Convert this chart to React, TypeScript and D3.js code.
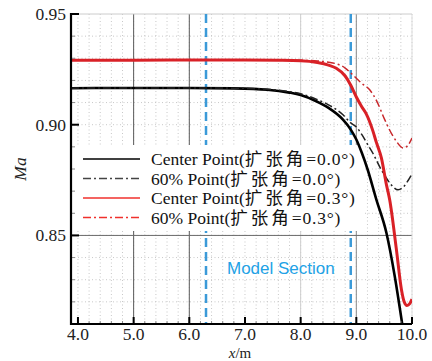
import React from "react";
import * as d3 from "d3";

const W = 432;
const H = 361;

// x tick labels and y tick labels
const xTicks = [4, 5, 6, 7, 8, 9, 10];
const yTicks = [0.85, 0.9, 0.95];
const majorGridX = [5, 6, 8, 9];
const majorGridXColor = ["#5a5a5a", "#5a5a5a", "#cfcfcf", "#8a8a8a"];
const sectionLines = [6.3, 8.9];

// Series: [x, Ma]
const center00: [number, number][] = [
  [3.875, 0.9165], [4.3, 0.9166], [5.0, 0.9166], [6.0, 0.9166], [6.8, 0.9164],
  [7.4, 0.9158], [7.8, 0.9145], [8.0, 0.9134], [8.28, 0.9106], [8.5, 0.9076],
  [8.76, 0.9023], [8.9, 0.8978], [9.0, 0.8933], [9.1, 0.8872], [9.2, 0.8800],
  [9.36, 0.8662], [9.54, 0.8512], [9.69, 0.8316], [9.83, 0.8090],
];
const p60_00: [number, number][] = [
  [3.875, 0.9165], [4.3, 0.9166], [5.0, 0.9166], [6.0, 0.9166], [6.8, 0.9165],
  [7.4, 0.9160], [7.8, 0.9149], [8.0, 0.9140], [8.28, 0.9115], [8.5, 0.9090],
  [8.76, 0.9045], [8.9, 0.9008], [9.0, 0.8990], [9.1, 0.8955], [9.2, 0.8912],
  [9.3, 0.8870], [9.42, 0.8810], [9.55, 0.8755], [9.65, 0.8722], [9.75, 0.8706],
  [9.85, 0.8720], [9.93, 0.8748], [10.0, 0.8778],
];
const center03: [number, number][] = [
  [3.875, 0.9291], [5.0, 0.9291], [6.0, 0.9292], [7.0, 0.9292], [7.6, 0.9291],
  [8.0, 0.9289], [8.3, 0.9281], [8.5, 0.9269], [8.64, 0.9255], [8.8, 0.9220],
  [8.9, 0.9178], [9.0, 0.9125], [9.1, 0.9080], [9.18, 0.9048], [9.3, 0.8970],
  [9.36, 0.8920], [9.45, 0.8850], [9.54, 0.8730], [9.6, 0.8660], [9.72, 0.8436],
  [9.81, 0.8256], [9.86, 0.8200], [9.91, 0.8184], [9.96, 0.8192], [10.0, 0.8212],
];
const p60_03: [number, number][] = [
  [3.875, 0.9291], [5.0, 0.9291], [6.0, 0.9292], [7.0, 0.9292], [7.6, 0.9292],
  [8.0, 0.9291], [8.3, 0.9288], [8.5, 0.9282], [8.64, 0.9275], [8.8, 0.9256],
  [8.9, 0.9234], [9.0, 0.9210], [9.1, 0.9186], [9.24, 0.9158], [9.36, 0.9110],
  [9.51, 0.9023], [9.6, 0.8975], [9.72, 0.8925], [9.84, 0.8895], [9.92, 0.8905],
  [10.0, 0.8940],
];

const legendLabels = [
  "Center Point(扩张角=0.0°)",
  "60% Point(扩张角=0.0°)",
  "Center Point(扩张角=0.3°)",
  "60% Point(扩张角=0.3°)",
];

const RED = "#d92127";
const BLACK = "#000000";
const DASHDOT = "8,3,2,3";

export default function App() {
  const x = d3.scaleLinear().domain([3.875, 10]).range([71, 412]);
  const y = d3.scaleLinear().domain([0.81, 0.95]).range([324, 14]);
  const line = d3
    .line<[number, number]>()
    .x((d) => x(d[0]))
    .y((d) => y(d[1]))
    .curve(d3.curveMonotoneX);

  const minorX = d3.range(4.0, 10.001, 0.2).map((v) => +v.toFixed(2));
  const minorY = d3.range(0.82, 0.9451, 0.01).map((v) => +v.toFixed(3));

  const serif = "'Liberation Serif', 'Times New Roman', 'Noto Sans CJK SC', serif";
  const x0 = x.range()[0];
  const x1 = x.range()[1];
  const yb = y.range()[0];
  const yt = y.range()[1];

  const series = [
    { d: center00, color: BLACK, w: 2.6, dash: undefined },
    { d: p60_00, color: "#222", w: 1.5, dash: DASHDOT },
    { d: p60_03, color: "#c8282c", w: 1.5, dash: DASHDOT },
    { d: center03, color: RED, w: 3, dash: undefined },
  ];
  const legendStyles = [
    { color: BLACK, dash: undefined },
    { color: "#444", dash: DASHDOT },
    { color: "#f0302c", dash: undefined },
    { color: "#f0302c", dash: DASHDOT },
  ];
  const legendY = [159, 178.5, 198, 217.5];

  const splitLabel = (t: string) => {
    const m = t.match(/^([^\u4e00-\u9fff]*)([\u4e00-\u9fff]+)(.*)$/);
    return m ? [m[1], m[2], m[3]] : [t, "", ""];
  };

  return (
    <svg
      width={W}
      height={H}
      style={{ position: "absolute", left: 0, top: 0, background: "#fff" }}
    >
      <defs>
        <clipPath id="plot">
          <rect x={x0} y={yt} width={x1 - x0} height={yb - yt} />
        </clipPath>
      </defs>
      {/* minor dotted grid */}
      {minorX.map((v, i) => (
        <line key={"mx" + i} x1={x(v)} x2={x(v)} y1={yt} y2={yb}
          stroke="#c8c8c8" strokeWidth={1} strokeDasharray="1,2.5" />
      ))}
      {minorY.map((v, i) => (
        <line key={"my" + i} x1={x0} x2={x1} y1={y(v)} y2={y(v)}
          stroke="#c8c8c8" strokeWidth={1} strokeDasharray="1,2.5" />
      ))}
      {/* major grid */}
      {majorGridX.map((v, i) => (
        <line key={"gx" + i} x1={x(v)} x2={x(v)} y1={yt} y2={yb}
          stroke={majorGridXColor[i]} strokeWidth={1} />
      ))}
      <line x1={x0} x2={x1} y1={y(0.85)} y2={y(0.85)} stroke="#6a6a6a" strokeWidth={1} />
      {/* frame top/right */}
      <line x1={x0} x2={x1} y1={yt} y2={yt} stroke="#cccccc" strokeWidth={1} />
      <line x1={x1} x2={x1} y1={yt} y2={yb} stroke="#dddddd" strokeWidth={1} />
      {/* model section lines */}
      {sectionLines.map((v, i) => (
        <line key={"s" + i} x1={x(v)} x2={x(v)} y1={yt} y2={yb}
          stroke="#3b9ad8" strokeWidth={2.5} strokeDasharray="9,5" />
      ))}
      <text x={227} y={274} fill="#22a2e6" fontFamily="'Liberation Sans', Arial, sans-serif" fontSize={17}>
        Model Section
      </text>
      {/* legend */}
      <rect x={x0 + 1} y={145} width={291} height={86} fill="#fff" />
      {legendLabels.map((t, i) => {
        const [a, b, c] = splitLabel(t);
        return (
          <g key={"l" + i}>
            <line x1={83} x2={140} y1={legendY[i]} y2={legendY[i]}
              stroke={legendStyles[i].color} strokeWidth={1.6}
              strokeDasharray={legendStyles[i].dash} />
            <text x={151} y={legendY[i] + 6} fontFamily={serif} fontSize={17.5} fill="#111">
              {a}
              <tspan letterSpacing={3}>{b}</tspan>
              <tspan letterSpacing={0.8}>{c}</tspan>
            </text>
          </g>
        );
      })}
      {/* curves */}
      <g clipPath="url(#plot)">
        {series.map((s, i) => (
          <path key={"c" + i} d={line(s.d) || ""} fill="none" stroke={s.color}
            strokeWidth={s.w} strokeDasharray={s.dash} strokeLinejoin="round" />
        ))}
      </g>
      {/* axes */}
      {minorY.map((v, i) => (
        <line key={"ty" + i} x1={x0} x2={x0 + 4} y1={y(v)} y2={y(v)} stroke="#888" strokeWidth={1} />
      ))}
      {minorX.map((v, i) => (
        <line key={"tx" + i} x1={x(v)} x2={x(v)} y1={yb} y2={yb - 3} stroke="#888" strokeWidth={1} />
      ))}
      {yTicks.map((v, i) => (
        <g key={"yt" + i}>
          <line x1={x0} x2={x0 + 8} y1={y(v)} y2={y(v)} stroke="#000" strokeWidth={2} />
          <text x={66} y={y(v)} dy="0.34em" textAnchor="end" fontFamily={serif} fontSize={17.5} fill="#222">
            {v.toFixed(2)}
          </text>
        </g>
      ))}
      {xTicks.map((v, i) => (
        <g key={"xt" + i}>
          <line x1={x(v)} x2={x(v)} y1={yb} y2={yb - 7} stroke="#000" strokeWidth={2} />
          <text x={x(v)} y={340} textAnchor="middle" fontFamily={serif} fontSize={17.5} fill="#222">
            {v.toFixed(1)}
          </text>
        </g>
      ))}
      <line x1={x0} x2={x0} y1={yt - 1} y2={yb + 1} stroke="#000" strokeWidth={2.2} />
      <line x1={x0 - 1} x2={x1} y1={yb} y2={yb} stroke="#000" strokeWidth={2} />
      {/* axis titles */}
      <text x={240} y={357.5} textAnchor="middle" fontFamily={serif} fontSize={15} fill="#222">
        <tspan fontStyle="italic">x</tspan>/m
      </text>
      <text transform={`translate(26,${(yt + yb) / 2}) rotate(-90)`} textAnchor="middle"
        fontFamily={serif} fontSize={17.5} fontStyle="italic" fill="#222">
        Ma
      </text>
    </svg>
  );
}
